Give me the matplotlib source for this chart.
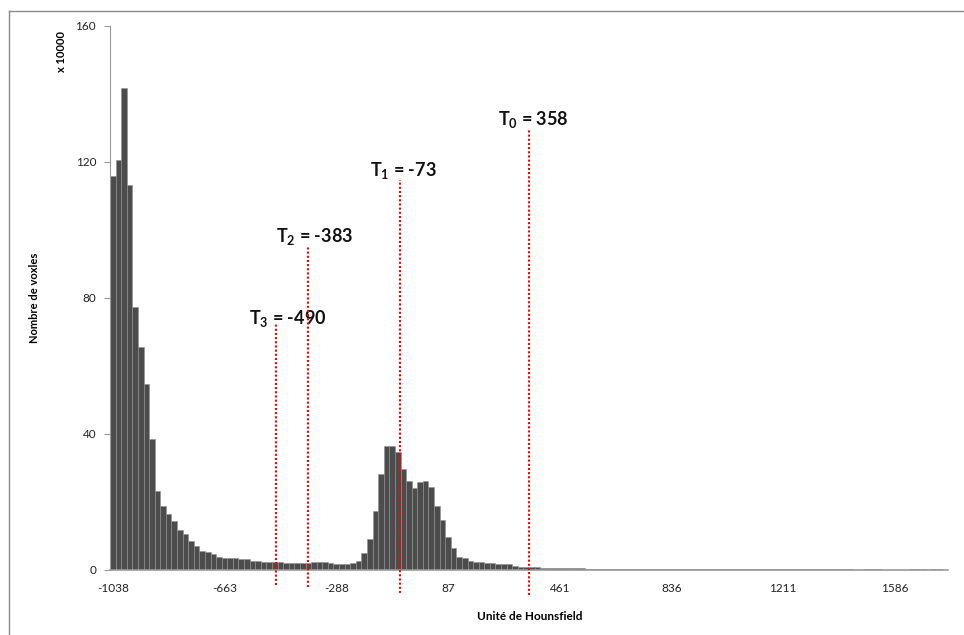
import numpy as np
import matplotlib
matplotlib.use("Agg")
import matplotlib.pyplot as plt
from matplotlib.lines import Line2D

plt.rcParams["font.family"] = ["Lato", "DejaVu Sans"]
plt.rcParams["mathtext.fontset"] = "custom"
plt.rcParams["mathtext.rm"] = "Lato"
plt.rcParams["mathtext.bf"] = "Lato:bold"

# histogram (x 10000 voxels), one value per bin
hu_start = -1038
bin_width = 18.743
counts = [
    115.9, 120.6, 141.7, 113.1, 77.4, 65.7, 54.7, 38.4, 23.3, 18.8,
    16.5, 14.5, 11.8, 10.5, 8.5, 7.2, 5.6, 5.2, 4.6, 3.9,
    3.4, 3.4, 3.4, 3.1, 3.1, 2.7, 2.7, 2.5, 2.5, 2.5,
    2.4, 2.2, 2.2, 2.2, 2.2, 2.0, 2.3, 2.3, 2.3, 2.0,
    1.7, 1.7, 1.7, 2.0, 2.7, 4.9, 9.0, 17.4, 28.1, 36.6,
    36.6, 34.8, 29.6, 26.3, 24.0, 26.0, 26.3, 24.3, 18.8, 14.7,
    9.6, 6.4, 3.9, 3.4, 2.7, 2.3, 2.3, 2.0, 2.0, 1.7,
    1.7, 1.7, 1.3, 1.0, 0.8, 0.8, 0.8, 0.5, 0.5, 0.5,
    0.5, 0.5, 0.5, 0.5, 0.5, 0.2, 0.2, 0.2, 0.2, 0.2,
    0.2, 0.2, 0.2, 0.2, 0.2, 0.2, 0.2, 0.2, 0.2, 0.2,
    0.2, 0.2, 0.2, 0.2, 0.2, 0.2, 0.2, 0.2, 0.2, 0.2,
    0.2, 0.15, 0.15, 0.15, 0.15, 0.15, 0.15, 0.15, 0.15, 0.15,
    0.15, 0.15, 0.15, 0.15, 0.15, 0.15, 0.15, 0.15, 0.15, 0.15,
    0.15, 0.15, 0.15, 0.0, 0.0, 0.2, 0.2, 0.2, 0.0, 0.0,
    0.0, 0.0, 0.0, 0.2, 0.2, 0.2, 0.0, 0.2, 0.2, 0.1,
]
tick_labels = ["-1038", "-663", "-288", "87", "461", "836", "1211", "1586"]
tick_every = 20

thresholds = [358, -73, -383, -490]
thr_names = ["0", "1", "2", "3"]
thr_top = [129.4, 114.7, 95.3, 72.4]
thr_bottom = [-7.4, -6.8, -5.0, -4.4]
label_dx = [15, 10, 23, 40]
label_y = [132.4, 117.6, 98.2, 74.1]

n = len(counts)
centers = hu_start + np.arange(n) * bin_width

fig = plt.figure(figsize=(9.64, 6.35), dpi=100)
ax = fig.add_axes([110 / 964, 1 - 570 / 635, 838 / 964, 544 / 635])

ax.bar(centers, counts, width=bin_width, color="#4c4c4c",
       edgecolor="#909090", linewidth=0.4)

ax.set_xlim(hu_start - bin_width / 2, hu_start + (n - 0.5) * bin_width)
ax.set_ylim(0, 160)
ax.set_yticks([0, 40, 80, 120, 160])
ax.set_xticks(centers[::tick_every][:len(tick_labels)])
ax.set_xticklabels(tick_labels)

for s in ["top", "right"]:
    ax.spines[s].set_visible(False)
ax.spines["left"].set_color("#9a9a9a")
ax.spines["bottom"].set_color("#9a9a9a")
ax.spines["bottom"].set_linewidth(1.2)
ax.tick_params(axis="x", length=0, pad=9, labelsize=8.5, colors="#222222")
ax.tick_params(axis="y", length=4, width=0.8, color="#9a9a9a", pad=6,
               labelsize=8.5, labelcolor="#222222")

for t, name, top, bot, dx, ly in zip(thresholds, thr_names, thr_top,
                                      thr_bottom, label_dx, label_y):
    ax.plot([t, t], [bot, top], color="red", linewidth=1.5,
            linestyle=(0, (1, 1)), clip_on=False, zorder=5)
    ax.text(t + dx, ly, r"$\mathbf{T_{%s}}$ = %d" % (name, t),
            ha="center", va="center", fontsize=13, fontweight="bold",
            color="#111111")

fig.text(35 / 964, 1 - 298 / 635, "Nombre de voxles", rotation=90,
         ha="center", va="center", fontsize=8, fontweight="bold")
fig.text(62 / 964, 1 - 52 / 635, "x 10000", rotation=90,
         ha="center", va="center", fontsize=8, fontweight="bold")
fig.text(530 / 964, 1 - 617 / 635, "Unité de Hounsfield",
         ha="center", va="center", fontsize=8.5, fontweight="bold")

# outer chart frame (top and left edges visible)
fig.add_artist(Line2D([9 / 964, 1], [1 - 11 / 635, 1 - 11 / 635],
                      color="#8a8a8a", linewidth=1))
fig.add_artist(Line2D([9 / 964, 9 / 964], [0, 1 - 11 / 635],
                      color="#8a8a8a", linewidth=1))

fig.savefig("out.png", dpi=100)
